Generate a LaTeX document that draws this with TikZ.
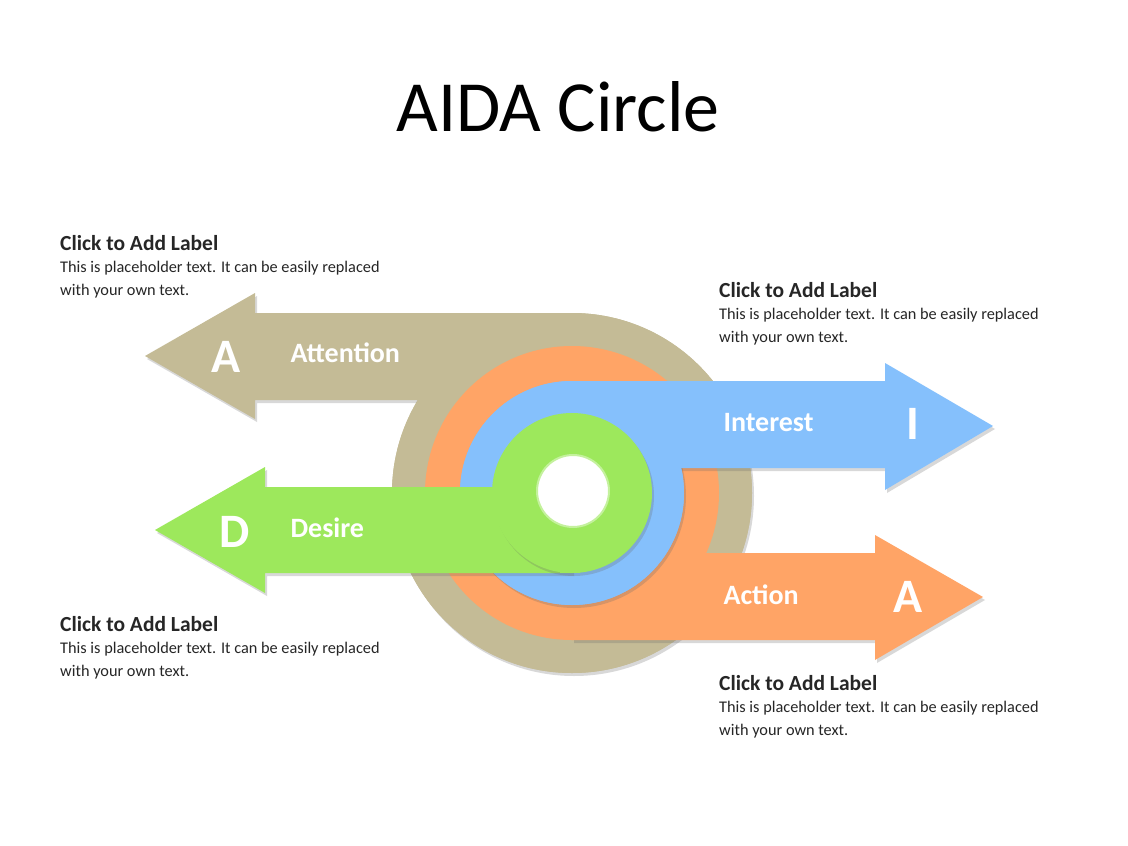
\documentclass[tikz,border=0pt]{standalone}
\usepackage{fontspec}
\setmainfont{Carlito}
\usetikzlibrary{shadows}
\begin{document}
\begin{tikzpicture}[x=1pt,y=-1pt,
  shp/.style={draw=none,drop shadow={shadow xshift=2pt,shadow yshift=-3pt,opacity=0.25,fill=black!60}},
  big/.style={text=white,font=\bfseries\fontsize{48}{52}\selectfont},
  word/.style={text=white,anchor=west,font=\bfseries\fontsize{28}{30}\selectfont},
  lab/.style={anchor=base west,inner sep=0pt,font=\bfseries\fontsize{21.5}{24}\selectfont,text=black!85},
  body/.style={anchor=north west,inner sep=0pt,font=\fontsize{16.3}{22.5}\selectfont,text=black!85,align=left}]
\definecolor{tan}{HTML}{C4BB96}
\definecolor{org}{HTML}{FFA466}
\definecolor{blu}{HTML}{85C0FC}
\definecolor{grn}{HTML}{9DE85C}
\useasboundingbox (0,0) rectangle (1128,846);
\fill[white] (0,0) rectangle (1128,846);
\node (title) at (558,107) {\fontsize{72}{80}\selectfont AIDA Circle};
% tan
\fill[tan,shp] (572,493) circle[radius=180];
\fill[tan,shp] (145,356) -- (255,293) -- (255,313) -- (572,313) -- (572,400) -- (255,400) -- (255,419) -- cycle;
\fill[tan] (572,493) circle[radius=180];
\fill[tan] (400,313) rectangle (572,400);
% orange
\fill[org,shp] (572,553) -- (875,553) -- (875,535) -- (983,597) -- (875,660) -- (875,640) -- (572,640) -- cycle;
\fill[org] (572,493) circle[radius=147];
% blue
\fill[blu,shp] (572,493) circle[radius=112];
\fill[blu,shp] (572,381) -- (885,381) -- (885,363) -- (993,426) -- (885,490) -- (885,468) -- (572,468) -- cycle;
\fill[blu] (572,493) circle[radius=112];
% green
\fill[grn,shp] (155,530) -- (265,467) -- (265,487) -- (572,487) -- (572,573) -- (265,573) -- (265,593) -- cycle;
\fill[grn,shp] (572,493) circle[radius=80];
\fill[grn] (560,487) rectangle (580,573);
\fill[white,draw=grn!60!white,line width=2pt] (573,491) circle[radius=36];
% letters
\node[big] (a1) at (226,357) {A};
\node[word] (att) at (287,353) {Attention};
\node[big] (ii) at (913,424) {I};
\node[word] (int) at (720,423) {Interest};
\node[big] (dd) at (235,532) {D};
\node[word] (des) at (287,528) {Desire};
\node[big] (a2) at (908,597) {A};
\node[word] (act) at (720,595) {Action};
% labels
\node[lab] (l1) at (60,250) {Click to Add Label};
\node[body] (b1) at (60,261) {This is placeholder text. It can be easily replaced\\with your own text.};
\node[lab] (l2) at (719,297) {Click to Add Label};
\node[body] (b2) at (719,308) {This is placeholder text. It can be easily replaced\\with your own text.};
\node[lab] (l3) at (60,631) {Click to Add Label};
\node[body] (b3) at (60,642) {This is placeholder text. It can be easily replaced\\with your own text.};
\node[lab] (l4) at (719,690) {Click to Add Label};
\node[body] (b4) at (719,701) {This is placeholder text. It can be easily replaced\\with your own text.};
\end{tikzpicture}
\end{document}
